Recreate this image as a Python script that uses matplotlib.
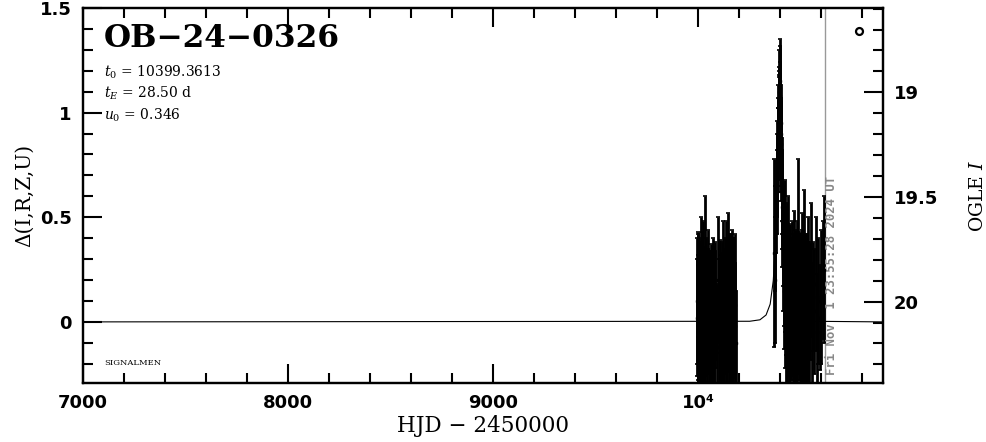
import matplotlib
matplotlib.use("Agg")
import matplotlib.pyplot as plt
from matplotlib.ticker import MultipleLocator, FixedLocator

# OGLE EWS light curve OB-24-0326
event = "OB\u221224\u22120326"
t0_txt = "10399.3613"
tE_txt = "28.50"
u0_txt = "0.346"
date_txt = "Fri Nov  1 23:55:28 2024 UT"
date_hjd = 10616.0
I_base = 20.097

# season 2023/24 (HJD - 2450000, delta mag, error)
t1 = [9993, 9994, 9996, 9997, 9998, 10000, 10001, 10003, 10004, 10005, 10007, 10008,
      10010, 10011, 10012, 10014, 10015, 10017, 10018, 10020, 10021, 10023, 10024, 10026,
      10027, 10030, 10033, 10036, 10037, 10041, 10045, 10049, 10053, 10056, 10058, 10061,
      10063, 10066, 10068, 10071, 10073, 10076, 10078, 10081, 10083, 10090, 10095, 10100,
      10105, 10108, 10110, 10113, 10115, 10118, 10120, 10123, 10125, 10128, 10130, 10133,
      10135, 10138, 10140, 10143, 10145, 10148, 10150, 10153, 10155, 10158, 10160, 10163,
      10165, 10168, 10170, 10173, 10175, 10178, 10180, 10185]
d1 = [0.10, 0.02, -0.05, 0.12, 0.18, 0.02, -0.06, -0.10, 0.08, 0.12, 0.05, -0.12,
      -0.08, 0.10, 0.20, 0.00, -0.02, 0.15, 0.08, -0.04, -0.15, 0.06, 0.15, -0.08,
      0.00, 0.30, -0.05, 0.04, 0.10, -0.12, 0.05, 0.18, -0.08, 0.06, 0.02, -0.05,
      0.10, 0.02, -0.10, 0.08, 0.15, 0.00, -0.02, 0.10, 0.06, -0.12, 0.20, 0.00,
      0.12, 0.02, -0.06, 0.10, 0.08, -0.04, 0.18, 0.05, -0.10, 0.10, 0.05, -0.06,
      0.14, 0.04, -0.03, 0.10, 0.22, -0.02, 0.02, 0.12, 0.10, 0.00, -0.08, 0.06,
      0.16, -0.04, 0.04, 0.10, 0.12, -0.02, 0.08, -0.10]
e1 = [0.30, 0.28, 0.32, 0.30, 0.25, 0.30, 0.28, 0.28, 0.30, 0.28, 0.30, 0.30,
      0.35, 0.28, 0.30, 0.30, 0.32, 0.28, 0.28, 0.30, 0.30, 0.30, 0.33, 0.28,
      0.30, 0.30, 0.33, 0.30, 0.30, 0.28, 0.30, 0.26, 0.30, 0.28, 0.32, 0.30,
      0.27, 0.30, 0.32, 0.28, 0.25, 0.30, 0.30, 0.28, 0.28, 0.30, 0.30, 0.30,
      0.27, 0.30, 0.32, 0.28, 0.25, 0.30, 0.30, 0.28, 0.28, 0.30, 0.30, 0.30,
      0.34, 0.28, 0.28, 0.30, 0.30, 0.28, 0.26, 0.30, 0.32, 0.30, 0.30, 0.28,
      0.28, 0.30, 0.31, 0.30, 0.28, 0.30, 0.34, 0.25]

# season 2024 (event)
t2 = [10368, 10372, 10375, 10378, 10381, 10383, 10385, 10386, 10388, 10389, 10390,
      10391, 10392, 10393, 10394, 10395, 10396, 10397, 10398, 10399, 10400,
      10401, 10402, 10403, 10404, 10405, 10406, 10407, 10409, 10410, 10412, 10413,
      10416, 10418, 10420, 10422, 10424, 10427, 10429, 10431, 10433, 10435, 10437,
      10439, 10441, 10443, 10445, 10447, 10449, 10451, 10453, 10455, 10457, 10459,
      10461, 10463, 10465, 10467, 10469, 10471, 10473, 10475, 10477, 10479, 10481,
      10483, 10485, 10487, 10489, 10491, 10493, 10495, 10497, 10499, 10501, 10503,
      10505, 10507, 10509, 10511, 10513, 10515, 10517, 10519, 10521, 10523, 10525,
      10527, 10529, 10531, 10533, 10535, 10540, 10545, 10550, 10555, 10560, 10566,
      10572, 10578, 10585, 10592, 10600, 10606, 10611]
d2 = [0.33, 0.20, 0.40, 0.55, 0.62, 0.70, 0.78, 0.85, 0.82, 0.95, 0.90,
      1.05, 0.98, 1.10, 1.02, 1.00, 1.12, 1.15, 1.05, 1.08, 1.00,
      0.95, 0.90, 0.85, 0.80, 0.75, 0.68, 0.62, 0.55, 0.48, 0.42, 0.35,
      0.28, 0.15, 0.10, 0.25, 0.40, -0.02, 0.12, 0.22, 0.00, 0.05, 0.18,
      0.30, 0.02, -0.08, 0.10, 0.15, -0.02, 0.02, 0.12, 0.20, 0.04, -0.05,
      0.08, 0.12, -0.04, 0.25, 0.06, -0.10, 0.14, 0.08, 0.00, 0.18, 0.05,
      -0.04, 0.10, 0.40, 0.02, 0.05, 0.12, 0.15, -0.06, -0.12, 0.04, 0.10,
      0.16, 0.22, 0.00, -0.02, 0.08, 0.30, 0.10, 0.06, -0.04, -0.08, 0.12,
      0.14, 0.00, 0.02, 0.10, 0.20, -0.06, 0.10, 0.25, -0.02, 0.12, 0.05,
      0.18, -0.05, 0.10, 0.02, 0.12, 0.20, 0.25]
e2 = [0.45, 0.30, 0.25, 0.22, 0.20, 0.20, 0.18, 0.17, 0.20, 0.18, 0.17,
      0.17, 0.20, 0.20, 0.18, 0.17, 0.20, 0.20, 0.16, 0.16, 0.18,
      0.18, 0.17, 0.20, 0.18, 0.17, 0.20, 0.20, 0.20, 0.22, 0.25, 0.30,
      0.30, 0.28, 0.32, 0.30, 0.28, 0.30, 0.28, 0.35, 0.30, 0.30, 0.28,
      0.30, 0.28, 0.28, 0.30, 0.32, 0.30, 0.30, 0.28, 0.28, 0.30, 0.33,
      0.30, 0.30, 0.28, 0.28, 0.30, 0.30, 0.30, 0.35, 0.28, 0.30, 0.30,
      0.32, 0.28, 0.38, 0.30, 0.30, 0.30, 0.28, 0.30, 0.30, 0.28, 0.32,
      0.28, 0.30, 0.30, 0.28, 0.30, 0.33, 0.28, 0.30, 0.30, 0.32, 0.30,
      0.28, 0.30, 0.30, 0.28, 0.30, 0.33, 0.28, 0.32, 0.30, 0.26, 0.30,
      0.32, 0.28, 0.30, 0.25, 0.32, 0.28, 0.35]

# model curve
mod_t = [7000, 10250, 10300, 10330, 10350, 10365, 10375, 10380, 10385, 10390, 10395,
         10399, 10403, 10408, 10413, 10418, 10423, 10433, 10448, 10468, 10500, 10550, 10900]
mod_d = [0.0, 0.003, 0.010, 0.033, 0.085, 0.197, 0.35, 0.475, 0.66, 0.862, 1.06,
         1.148, 1.06, 0.862, 0.66, 0.475, 0.35, 0.197, 0.085, 0.033, 0.010, 0.003, 0.0]

# off-season point near top right
extra_t = [10785]
extra_d = [1.39]

xticks = [7000, 8000, 9000, 10000]
xticklabels = ["7000", "8000", "9000", "10\u2074"]
yticks = [0, 0.5, 1, 1.5]
yticklabels = ["0", "0.5", "1", "1.5"]
iticks = [19, 19.5, 20]

plt.rcParams['mathtext.fontset'] = 'dejavuserif'
fig = plt.figure(figsize=(9.86, 4.42), dpi=100)
ax = fig.add_axes([83/986, 1-383/442, 800/986, 375/442])

ax.plot(mod_t, mod_d, color='black', lw=0.8, zorder=2)
for t, d, e in [(t1, d1, e1), (t2, d2, e2)]:
    ax.errorbar(t, d, yerr=e, fmt='s', ms=2, color='black', ecolor='black',
                elinewidth=2.0, capsize=1.2, capthick=1.2, zorder=3)
ax.plot(extra_t, extra_d, 'o', ms=5, mfc='white', mec='black', mew=1.6, zorder=4)
ax.axvline(date_hjd, color='#999999', lw=1.0, zorder=1)

ax.set_xlim(7000, 10900)
ax.set_ylim(-0.292, 1.5)

tick_font = dict(family='DejaVu Sans', weight='bold', size=13)
ax.xaxis.set_major_locator(FixedLocator(xticks))
ax.set_xticklabels(xticklabels, **tick_font)
ax.xaxis.set_minor_locator(MultipleLocator(200))
ax.set_yticks(yticks)
ax.set_yticklabels(yticklabels, **tick_font)
ax.yaxis.set_minor_locator(MultipleLocator(0.1))
ax.tick_params(which='both', direction='in', top=True, right=False, width=1.5)
ax.tick_params(which='major', length=14, pad=8)
ax.tick_params(which='minor', length=7)
for s in ax.spines.values():
    s.set_linewidth(1.6)

ax.set_xlabel("HJD \u2212 2450000", family='DejaVu Serif', size=15.5, labelpad=2)
ax.set_ylabel("\u0394(I,R,Z,U)", family='DejaVu Serif', size=14.5, labelpad=4)

ax2 = ax.twinx()
ax2.set_ylim(I_base + 0.292, I_base - 1.5)
ax2.set_yticks(iticks)
ax2.set_yticklabels(["19", "19.5", "20"], **tick_font)
ax2.yaxis.set_minor_locator(MultipleLocator(0.1))
ax2.tick_params(which='both', direction='in', width=1.5)
ax2.tick_params(which='major', length=14, pad=8)
ax2.tick_params(which='minor', length=7)
ax2.set_ylabel("OGLE $I$", family='DejaVu Serif', size=13.5, labelpad=22)
for s in ax2.spines.values():
    s.set_linewidth(1.6)

ax.text(0.026, 0.896, event, transform=ax.transAxes, family='DejaVu Serif',
        weight='bold', size=22.5, va='baseline')
ax.text(0.026, 0.829, r"$t_0$ = " + t0_txt, transform=ax.transAxes,
        family='DejaVu Serif', size=10, va='center')
ax.text(0.026, 0.773, r"$t_E$ = " + tE_txt + " d", transform=ax.transAxes,
        family='DejaVu Serif', size=10, va='center')
ax.text(0.026, 0.715, r"$u_0$ = " + u0_txt, transform=ax.transAxes,
        family='DejaVu Serif', size=10, va='center')
ax.text(0.026, 0.053, "SIGNALMEN", transform=ax.transAxes,
        family='DejaVu Serif', size=6, va='center')
ax.text(date_hjd + 34, -0.255, date_txt, rotation=90, ha='center', va='bottom',
        color='#888888', family='DejaVu Sans Mono', weight='bold', size=8.8)

fig.savefig("out.png", dpi=100)
